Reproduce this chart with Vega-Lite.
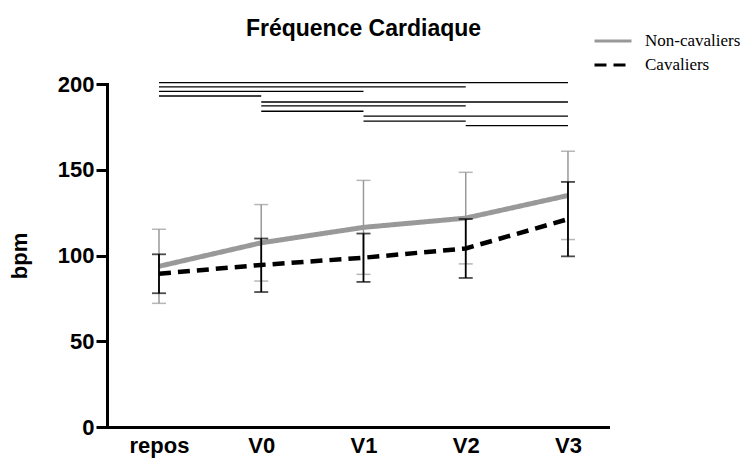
{
  "$schema": "https://vega.github.io/schema/vega-lite/v6.json",
  "autosize": "none",
  "width": 501,
  "height": 343,
  "padding": {"left": 107, "top": 84, "right": 139, "bottom": 33},
  "background": "white",
  "title": {
    "text": "Fréquence Cardiaque",
    "font": "Liberation Sans",
    "fontSize": 23,
    "fontWeight": "bold",
    "color": "black",
    "anchor": "middle",
    "frame": "group",
    "baseline": "alphabetic",
    "offset": -30,
    "dx": 6
  },
  "datasets": {
    "hr": [
      {"series": "Non-cavaliers", "time": "repos", "mean": 93.7, "low": 72.1, "high": 115.3},
      {"series": "Non-cavaliers", "time": "V0", "mean": 107.4, "low": 85.1, "high": 129.7},
      {"series": "Non-cavaliers", "time": "V1", "mean": 116.4, "low": 89.0, "high": 143.8},
      {"series": "Non-cavaliers", "time": "V2", "mean": 121.8, "low": 95.1, "high": 148.5},
      {"series": "Non-cavaliers", "time": "V3", "mean": 135.0, "low": 109.3, "high": 160.8},
      {"series": "Cavaliers", "time": "repos", "mean": 89.4, "low": 78.0, "high": 100.7},
      {"series": "Cavaliers", "time": "V0", "mean": 94.5, "low": 78.7, "high": 109.9},
      {"series": "Cavaliers", "time": "V1", "mean": 98.7, "low": 84.6, "high": 112.8},
      {"series": "Cavaliers", "time": "V2", "mean": 104.1, "low": 86.9, "high": 121.3},
      {"series": "Cavaliers", "time": "V3", "mean": 121.2, "low": 99.5, "high": 142.9}
    ],
    "sig": [
      {"from": "repos", "to": "V3", "level": 200.8},
      {"from": "repos", "to": "V2", "level": 198.3},
      {"from": "repos", "to": "V1", "level": 195.7},
      {"from": "repos", "to": "V0", "level": 193.0},
      {"from": "V0", "to": "V3", "level": 189.5},
      {"from": "V0", "to": "V2", "level": 187.2},
      {"from": "V0", "to": "V1", "level": 184.1},
      {"from": "V1", "to": "V3", "level": 181.3},
      {"from": "V1", "to": "V2", "level": 178.4},
      {"from": "V2", "to": "V3", "level": 175.7}
    ]
  },
  "config": {
    "view": {"stroke": null},
    "axis": {
      "labelFont": "Liberation Sans",
      "labelFontSize": 22,
      "labelFontWeight": "bold",
      "labelColor": "black",
      "titleFont": "Liberation Sans",
      "titleFontSize": 22,
      "titleFontWeight": "bold",
      "titleColor": "black",
      "domainColor": "black",
      "domainWidth": 3,
      "tickColor": "black",
      "tickWidth": 3,
      "grid": false
    }
  },
  "encoding": {
    "x": {
      "field": "time",
      "type": "ordinal",
      "sort": ["repos", "V0", "V1", "V2", "V3"],
      "scale": {"type": "point", "domain": ["repos", "V0", "V1", "V2", "V3"], "padding": 0.45, "align": 0.565},
      "axis": {"title": null, "ticks": false, "labelAngle": 0, "labelPadding": 8, "labelDx": -4, "domainCap": "square"}
    }
  },
  "layer": [
    {
      "data": {"name": "sig"},
      "mark": {"type": "rule", "color": "black", "strokeWidth": 1.3},
      "encoding": {
        "x": {"field": "from", "type": "ordinal"},
        "x2": {"field": "to"},
        "y": {"field": "level", "type": "quantitative"}
      }
    },
    {
      "data": {"name": "hr"},
      "transform": [{"filter": "datum.series === 'Non-cavaliers'"}],
      "layer": [
        {
          "mark": {"type": "rule", "color": "#999999", "strokeWidth": 1.5},
          "encoding": {
            "y": {"field": "low", "type": "quantitative"},
            "y2": {"field": "high"}
          }
        },
        {
          "mark": {"type": "tick", "color": "#999999", "thickness": 1.5, "size": 14},
          "encoding": {"y": {"field": "low", "type": "quantitative"}}
        },
        {
          "mark": {"type": "tick", "color": "#999999", "thickness": 1.5, "size": 14},
          "encoding": {"y": {"field": "high", "type": "quantitative"}}
        }
      ]
    },
    {
      "data": {"name": "hr"},
      "transform": [{"filter": "datum.series === 'Non-cavaliers'"}],
      "mark": {"type": "line", "strokeWidth": 5},
      "encoding": {
        "y": {"field": "mean", "type": "quantitative"},
        "color": {"field": "series", "type": "nominal"},
        "strokeDash": {"field": "series", "type": "nominal"}
      }
    },
    {
      "data": {"name": "hr"},
      "transform": [{"filter": "datum.series === 'Cavaliers'"}],
      "layer": [
        {
          "mark": {"type": "rule", "color": "black", "strokeWidth": 1.8},
          "encoding": {
            "y": {"field": "low", "type": "quantitative"},
            "y2": {"field": "high"}
          }
        },
        {
          "mark": {"type": "tick", "color": "black", "thickness": 1.8, "size": 14},
          "encoding": {"y": {"field": "low", "type": "quantitative"}}
        },
        {
          "mark": {"type": "tick", "color": "black", "thickness": 1.8, "size": 14},
          "encoding": {"y": {"field": "high", "type": "quantitative"}}
        }
      ]
    },
    {
      "data": {"name": "hr"},
      "transform": [{"filter": "datum.series === 'Cavaliers'"}],
      "mark": {"type": "line", "strokeWidth": 4.5},
      "encoding": {
        "y": {
          "field": "mean",
          "type": "quantitative",
          "scale": {"domain": [0, 200], "nice": false, "zero": true},
          "axis": {"title": "bpm", "values": [0, 50, 100, 150, 200], "tickSize": 11, "labelPadding": 2, "titlePadding": 26, "domainCap": "square"}
        },
        "color": {
          "field": "series",
          "type": "nominal",
          "scale": {"domain": ["Non-cavaliers", "Cavaliers"], "range": ["#999999", "#000000"]},
          "legend": {
            "title": null,
            "orient": "none",
            "legendX": 486,
            "legendY": -55,
            "padding": 0,
            "symbolType": "stroke",
            "symbolSize": 1369,
            "symbolStrokeWidth": 3,
            "clipHeight": 24,
            "labelFont": "Liberation Serif",
            "labelFontSize": 17,
            "labelColor": "black",
            "labelOffset": 12,
            "rowPadding": 0
          }
        },
        "strokeDash": {
          "field": "series",
          "type": "nominal",
          "scale": {"domain": ["Non-cavaliers", "Cavaliers"], "range": [[1, 0], [12, 7]]}
        }
      }
    }
  ]
}
